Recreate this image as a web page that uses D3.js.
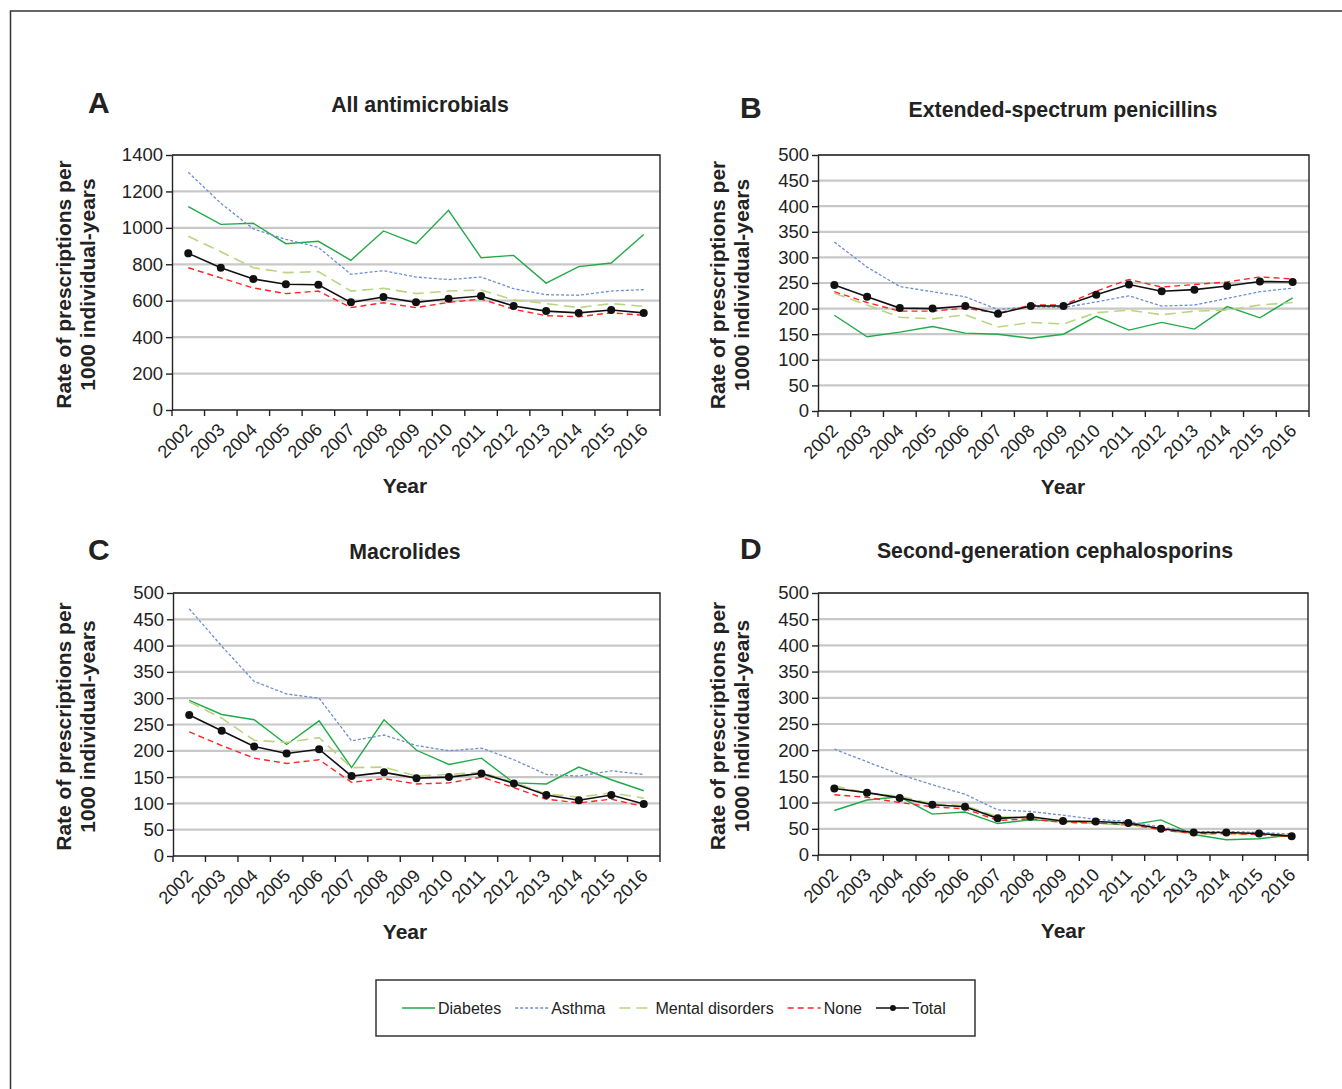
<!DOCTYPE html>
<html>
<head>
<meta charset="utf-8">
<script src="https://cdn.jsdelivr.net/npm/d3@7"></script>
<style>
  body { margin: 0; background: #fff; }
  svg text { font-family: "Liberation Sans", Arial, Helvetica, sans-serif; fill: #222; }
</style>
</head>
<body>
<div id="container"></div>
<script>
// years on the x axis
var years = ["2002","2003","2004","2005","2006","2007","2008","2009","2010","2011","2012","2013","2014","2015","2016"]
var seriesNames = ["Diabetes","Asthma","Mental disorders","None","Total"]

// A - all antimicrobials
var allDiabetes = [1116,1019,1025,913,926,822,983,913,1096,836,849,697,787,807,963]
var allAsthma   = [1305,1135,994,937,893,745,765,730,716,730,666,633,630,653,661]
var allMental   = [954,869,781,754,760,653,668,639,653,659,604,584,562,584,569]
var allNone     = [781,725,670,639,653,562,589,562,591,609,553,518,512,534,520]
var allTotal    = [860,781,719,690,688,591,620,591,611,626,571,543,533,549,533]

// B - extended-spectrum penicillins
var penDiabetes = [187,145,154,165,152,150,142,150,185,158,173,160,204,182,221]
var penAsthma   = [330,281,243,233,223,198,204,202,213,225,205,207,220,233,240]
var penMental   = [230,207,183,180,188,164,173,170,192,197,188,195,197,207,212]
var penNone     = [233,212,195,195,201,191,207,207,234,257,242,247,252,262,258]
var penTotal    = [246,223,201,200,205,190,205,205,227,247,234,237,244,253,252]

// C - macrolides
var macDiabetes = [296,269,259,212,257,168,259,201,174,186,139,137,169,145,124]
var macAsthma   = [470,399,332,308,300,219,230,210,200,205,183,155,152,162,155]
var macMental   = [293,262,220,216,225,168,169,152,155,159,140,118,112,120,110]
var macNone     = [236,210,186,176,183,140,147,137,139,150,130,108,101,108,94]
var macTotal    = [268,238,208,195,203,152,159,148,150,157,138,116,106,116,99]

// D - second-generation cephalosporins
var cepDiabetes = [85,105,111,78,82,60,67,64,61,57,67,39,29,31,38]
var cepAsthma   = [202,178,154,134,116,86,83,76,68,64,53,44,45,43,40]
var cepMental   = [132,118,112,98,94,73,70,64,61,58,48,40,40,39,38]
var cepNone     = [115,110,100,92,88,66,69,62,61,59,48,41,41,39,35]
var cepTotal    = [127,119,109,96,92,70,73,65,64,61,50,43,43,41,36]

var styles = {
  "Diabetes":         { color: "#22aa48", dash: null,   width: 1.4 },
  "Asthma":           { color: "#6d8fd2", dash: "3,2",  width: 1.3 },
  "Mental disorders": { color: "#b9d67f", dash: "11,6", width: 1.6 },
  "None":             { color: "#ff2525", dash: "6,4",  width: 1.4 },
  "Total":            { color: "#111111", dash: null,   width: 1.6 }
}

var panels = [
  { letter: "A", title: "All antimicrobials", yMax: 1400, yStep: 200,
    series: [allDiabetes, allAsthma, allMental, allNone, allTotal],
    left: 172, right: 660, top: 155, bottom: 410, letterX: 88, titleX: 420, titleY: 112, yTitleX: 64, yearX: 405 },
  { letter: "B", title: "Extended-spectrum penicillins", yMax: 500, yStep: 50,
    series: [penDiabetes, penAsthma, penMental, penNone, penTotal],
    left: 818, right: 1309, top: 155, bottom: 411, letterX: 740, titleX: 1063, titleY: 117, yTitleX: 718, yearX: 1063 },
  { letter: "C", title: "Macrolides", yMax: 500, yStep: 50,
    series: [macDiabetes, macAsthma, macMental, macNone, macTotal],
    left: 173, right: 660, top: 593, bottom: 856, letterX: 88, titleX: 405, titleY: 559, yTitleX: 64, yearX: 405 },
  { letter: "D", title: "Second-generation cephalosporins", yMax: 500, yStep: 50,
    series: [cepDiabetes, cepAsthma, cepMental, cepNone, cepTotal],
    left: 818, right: 1308, top: 593, bottom: 855, letterX: 740, titleX: 1055, titleY: 558, yTitleX: 718, yearX: 1063 }
]

var svg = d3.select("#container").append("svg")
  .attr("width", 1342)
  .attr("height", 1089)

// outer frame
svg.append("rect")
  .attr("x", 10.5).attr("y", 11)
  .attr("width", 1360).attr("height", 1100)
  .attr("fill", "none")
  .attr("stroke", "#333")
  .attr("stroke-width", 1.5)

panels.forEach(function(p){
  var x = d3.scaleBand().domain(years).range([p.left, p.right])
  var y = d3.scaleLinear().domain([0, p.yMax]).range([p.bottom, p.top])
  var ticks = d3.range(0, p.yMax + 1, p.yStep)

  var g = svg.append("g")

  // gridlines
  g.selectAll(".grid").data(ticks.slice(1))
    .enter().append("line")
    .attr("x1", p.left).attr("x2", p.right)
    .attr("y1", function(d){ return y(d) }).attr("y2", function(d){ return y(d) })
    .attr("stroke", "#c8c8c8")
    .attr("stroke-width", 2.2)

  // y axis
  var yAxis = g.append("g")
    .attr("transform", "translate(" + p.left + ",0)")
    .call(d3.axisLeft(y).tickValues(ticks).tickFormat(d3.format("d")).tickSize(6).tickPadding(3).tickSizeOuter(0))
  yAxis.selectAll("text").style("font-size", "18.5px").attr("fill", "#222")
  yAxis.selectAll("line, path").attr("stroke", "#222").attr("stroke-width", 1.4)

  // x axis (ticks at band edges)
  var xAxis = g.append("g")
    .attr("transform", "translate(0," + p.bottom + ")")
  xAxis.append("line")
    .attr("x1", p.left).attr("x2", p.right)
    .attr("stroke", "#222").attr("stroke-width", 1.4)
  xAxis.selectAll(".edge").data(years.concat(["end"]))
    .enter().append("line")
    .attr("x1", function(d, i){ return p.left + i * x.step() })
    .attr("x2", function(d, i){ return p.left + i * x.step() })
    .attr("y1", 0).attr("y2", 6)
    .attr("stroke", "#222").attr("stroke-width", 1.4)
  xAxis.selectAll(".lbl").data(years)
    .enter().append("text")
    .attr("text-anchor", "end")
    .attr("transform", function(d){
      return "translate(" + (x(d) + x.bandwidth() / 2 + 5) + ",21) rotate(-45)" })
    .style("font-size", "18px")
    .text(function(d){ return d })

  // plot box top + right
  g.append("path")
    .attr("d", "M" + p.left + "," + p.top + "H" + p.right + "V" + p.bottom)
    .attr("fill", "none").attr("stroke", "#222").attr("stroke-width", 1.4)

  // lines
  var line = d3.line()
    .x(function(d, i){ return x(years[i]) + x.bandwidth() / 2 })
    .y(function(d){ return y(d) })

  p.series.forEach(function(vals, k){
    var st = styles[seriesNames[k]]
    g.append("path")
      .datum(vals)
      .attr("d", line)
      .attr("fill", "none")
      .attr("stroke", st.color)
      .attr("stroke-width", st.width)
      .attr("stroke-dasharray", st.dash)
  })
  g.selectAll(".dot").data(p.series[4])
    .enter().append("circle")
    .attr("cx", function(d, i){ return x(years[i]) + x.bandwidth() / 2 })
    .attr("cy", function(d){ return y(d) })
    .attr("r", 4)
    .attr("fill", "#111")

  // panel letter and title
  g.append("text")
    .attr("x", p.letterX).attr("y", p.titleY + 1)
    .style("font-size", "30px").style("font-weight", "bold")
    .text(p.letter)
  g.append("text")
    .attr("x", p.titleX).attr("y", p.titleY)
    .attr("text-anchor", "middle")
    .style("font-size", "21.3px").style("font-weight", "bold")
    .text(p.title)

  // axis titles
  var yc = (p.top + p.bottom) / 2 + 2
  g.append("text")
    .attr("transform", "translate(" + p.yTitleX + "," + yc + ") rotate(-90)")
    .attr("text-anchor", "middle").attr("dy", "0.35em")
    .style("font-size", "21px").style("font-weight", "bold")
    .text("Rate of prescriptions per")
  g.append("text")
    .attr("transform", "translate(" + (p.yTitleX + 24) + "," + yc + ") rotate(-90)")
    .attr("text-anchor", "middle").attr("dy", "0.35em")
    .style("font-size", "21px").style("font-weight", "bold")
    .text("1000 individual-years")
  g.append("text")
    .attr("x", p.yearX).attr("y", p.bottom + 83)
    .attr("text-anchor", "middle")
    .style("font-size", "21px").style("font-weight", "bold")
    .text("Year")
})

// legend
var legend = svg.append("g")
legend.append("rect")
  .attr("x", 376).attr("y", 980)
  .attr("width", 599).attr("height", 56)
  .attr("fill", "none").attr("stroke", "#333").attr("stroke-width", 1.5)

var lx = 402, ly = 1008
seriesNames.forEach(function(name){
  var st = styles[name]
  legend.append("line")
    .attr("x1", lx).attr("x2", lx + 33)
    .attr("y1", ly).attr("y2", ly)
    .attr("stroke", st.color)
    .attr("stroke-width", st.width)
    .attr("stroke-dasharray", st.dash)
  if (name === "Total") {
    legend.append("circle").attr("cx", lx + 17).attr("cy", ly).attr("r", 3).attr("fill", "#111")
  }
  var t = legend.append("text")
    .attr("x", lx + 36).attr("y", ly + 5.5)
    .style("font-size", "16px")
    .text(name)
  lx = lx + 36 + t.node().getComputedTextLength() + 14
})
</script>
</body>
</html>
